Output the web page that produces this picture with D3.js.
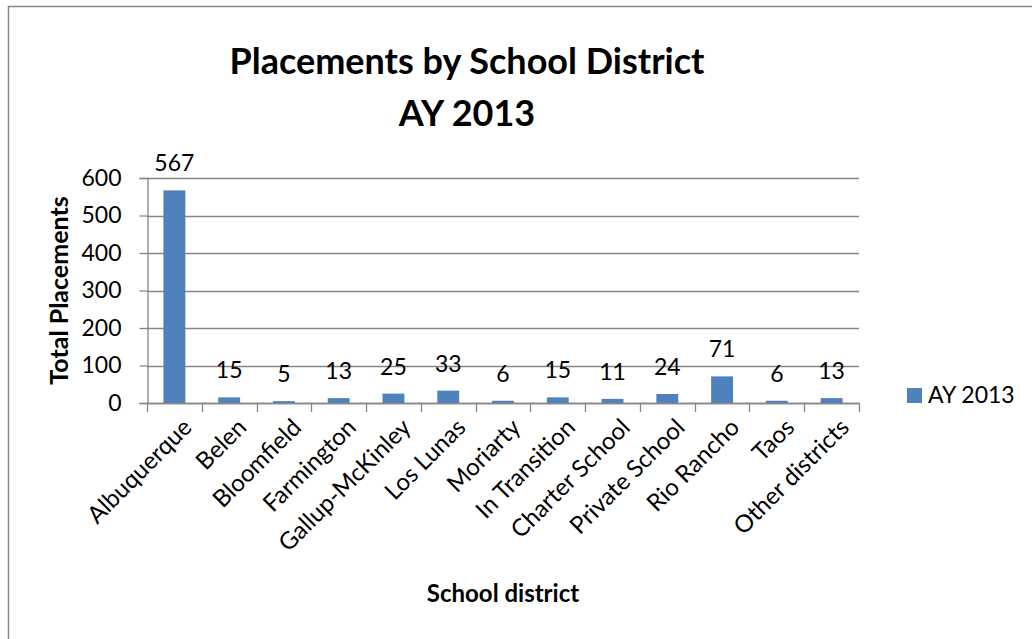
<!DOCTYPE html>
<html>
<head>
<meta charset="utf-8">
<script src="https://cdn.jsdelivr.net/npm/d3@7"></script>
<style>
  body { margin: 0; background: #fff; }
  svg { display: block; font-family: Lato, "Open Sans", sans-serif; }
</style>
</head>
<body>
<div id="chart"></div>
<script>
const districts = ["Albuquerque", "Belen", "Bloomfield", "Farmington", "Gallup-McKinley", "Los Lunas",
    "Moriarty", "In Transition", "Charter School", "Private School", "Rio Rancho", "Taos", "Other districts"];
const placements = [567, 15, 5, 13, 25, 33, 6, 15, 11, 24, 71, 6, 13];
const yTicks = [0, 100, 200, 300, 400, 500, 600];
const seriesName = "AY 2013";

const width = 1032;
const height = 639;
const plot = { left: 147, right: 859, top: 178, bottom: 403 };

const svg = d3.select("#chart")
    .append("svg")
    .attr("width", width)
    .attr("height", height);

// Chart border (runs off the right and bottom)
svg.append("rect")
    .attr("x", 8.5).attr("y", 6.5)
    .attr("width", 1100).attr("height", 700)
    .style("fill", "none")
    .style("stroke", "#868686")
    .style("stroke-width", 1.5);

const x = d3.scaleBand()
    .domain(districts)
    .range([plot.left, plot.right])
    .paddingInner(0.6)
    .paddingOuter(0.3);

const y = d3.scaleLinear()
    .domain([0, 600])
    .range([plot.bottom, plot.top]);

// Gridlines
svg.append("g")
    .selectAll("line")
    .data(yTicks)
    .enter()
    .append("line")
    .attr("x1", plot.left).attr("x2", plot.right)
    .attr("y1", d => Math.round(y(d)) + 0.5)
    .attr("y2", d => Math.round(y(d)) + 0.5)
    .style("stroke", "#868686")
    .style("stroke-width", 1.3);

// Y axis
const yAxis = svg.append("g")
    .attr("transform", `translate(${plot.left + 0.5},0)`)
    .call(d3.axisLeft(y).tickValues(yTicks).tickSize(8).tickPadding(18));
yAxis.select(".domain").style("stroke", "#868686").style("stroke-width", 1.3);
yAxis.selectAll(".tick line").style("stroke", "#868686").style("stroke-width", 1.3);
yAxis.selectAll(".tick text")
    .style("font-size", "23px")
    .style("font-family", "Lato, sans-serif")
    .style("fill", "#000");

// Bars
svg.append("g")
    .selectAll("rect")
    .data(placements)
    .enter()
    .append("rect")
    .attr("x", (d, i) => x(districts[i]))
    .attr("y", d => y(d))
    .attr("width", x.bandwidth())
    .attr("height", d => y(0) - y(d))
    .style("fill", "#4F81BD");

// Category axis line and ticks at category boundaries
const boundaries = d3.range(districts.length + 1).map(i => plot.left + i * (plot.right - plot.left) / districts.length);
svg.append("line")
    .attr("x1", plot.left).attr("x2", plot.right)
    .attr("y1", plot.bottom + 0.5).attr("y2", plot.bottom + 0.5)
    .style("stroke", "#868686")
    .style("stroke-width", 1.3);
svg.append("g")
    .selectAll("line")
    .data(boundaries)
    .enter()
    .append("line")
    .attr("x1", d => Math.round(d) + 0.5).attr("x2", d => Math.round(d) + 0.5)
    .attr("y1", plot.bottom).attr("y2", plot.bottom + 9)
    .style("stroke", "#868686")
    .style("stroke-width", 1.3);

// Category labels, rotated
svg.append("g")
    .selectAll("text")
    .data(districts)
    .enter()
    .append("text")
    .attr("transform", d => `translate(${x(d) + x.bandwidth() / 2 + 7},${plot.bottom + 14})rotate(-45)`)
    .attr("text-anchor", "end")
    .attr("dy", "0.7em")
    .style("font-size", "24px")
    .style("fill", "#000")
    .text(d => d);

// Data labels
svg.append("g")
    .selectAll("text")
    .data(placements)
    .enter()
    .append("text")
    .attr("x", (d, i) => x(districts[i]) + x.bandwidth() / 2)
    .attr("y", d => y(d) - 19)
    .attr("text-anchor", "middle")
    .style("font-size", "23px")
    .style("fill", "#000")
    .text(d => d);

// Title
const title = svg.append("text")
    .attr("x", 467)
    .attr("text-anchor", "middle")
    .style("font-size", "36px")
    .style("font-weight", "bold")
    .style("fill", "#000");
title.append("tspan").attr("x", 467).attr("y", 74).text("Placements by School District");
title.append("tspan").attr("x", 467).attr("y", 126).text(seriesName);

// Axis titles
svg.append("text")
    .attr("transform", `translate(68,${(plot.top + plot.bottom) / 2})rotate(-90)`)
    .attr("text-anchor", "middle")
    .style("font-size", "25px")
    .style("font-weight", "bold")
    .style("fill", "#000")
    .text("Total Placements");

svg.append("text")
    .attr("x", (plot.left + plot.right) / 2)
    .attr("y", 602)
    .attr("text-anchor", "middle")
    .style("font-size", "24px")
    .style("font-weight", "bold")
    .style("fill", "#000")
    .text("School district");

// Legend
const legend = svg.append("g").attr("transform", "translate(907,388)");
legend.append("rect")
    .attr("width", 15).attr("height", 15)
    .style("fill", "#4F81BD");
legend.append("text")
    .attr("x", 21).attr("y", 15)
    .style("font-size", "23px")
    .style("fill", "#000")
    .text(seriesName);
</script>
</body>
</html>
